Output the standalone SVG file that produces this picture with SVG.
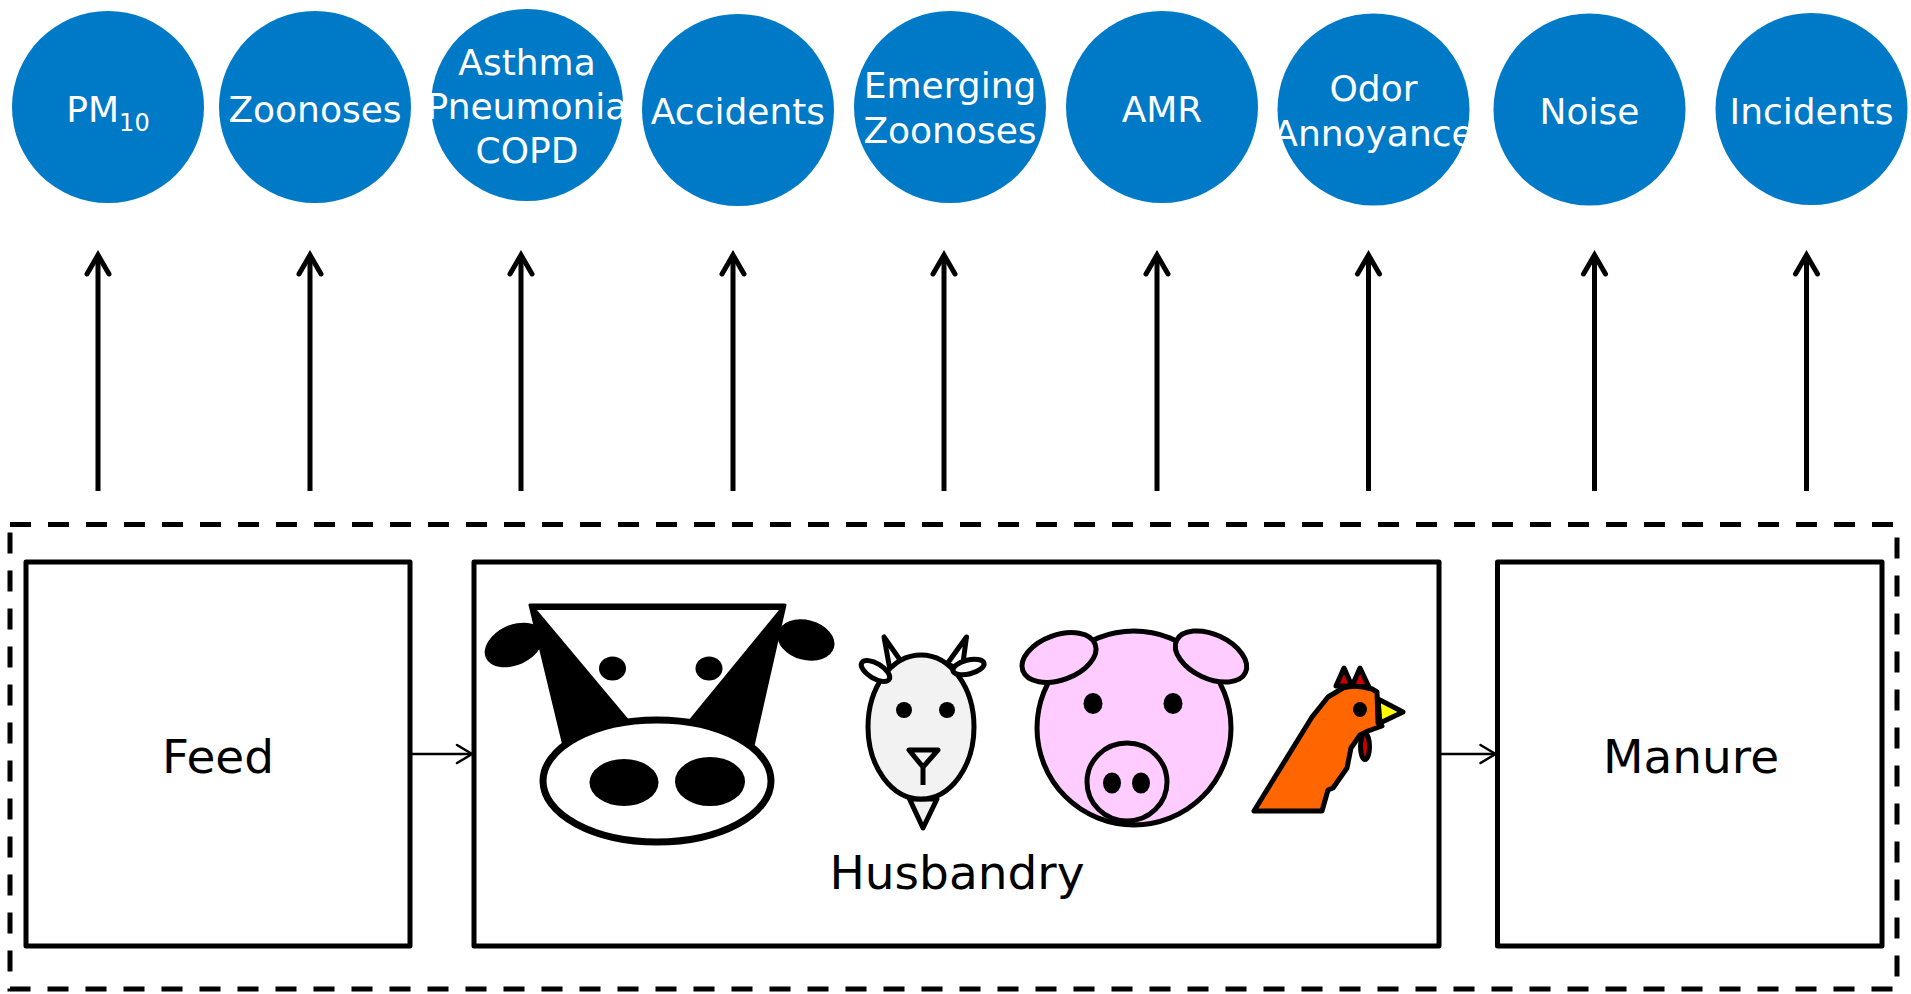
<svg xmlns="http://www.w3.org/2000/svg" width="1911" height="994" viewBox="0 0 1911 994">
<style>
.c{fill:#0079c7}
.ct{fill:#fff;font-family:"DejaVu Sans",Verdana,sans-serif;font-size:36px;text-anchor:middle}
.bx{fill:none;stroke:#000;stroke-width:5;stroke-linejoin:round}
.bt{fill:#000;font-family:"DejaVu Sans",Verdana,sans-serif;font-size:47px;text-anchor:middle}
.up{fill:none;stroke:#000;stroke-width:5;marker-end:url(#mUp)}
.sm{fill:none;stroke:#000;stroke-width:2.5;marker-end:url(#mSm)}
.ol{stroke:#000;stroke-width:5;stroke-linejoin:round}
</style>
<defs>
<marker id="mUp" markerUnits="userSpaceOnUse" orient="auto" refX="0" refY="0" markerWidth="1" markerHeight="1" style="overflow:visible">
<path d="M -19 -11 L 0 0 L -19 11" fill="none" stroke="#000" stroke-width="5" stroke-linecap="round" stroke-linejoin="miter"/>
</marker>
<marker id="mSm" markerUnits="userSpaceOnUse" orient="auto" refX="0" refY="0" markerWidth="1" markerHeight="1" style="overflow:visible">
<path d="M -15 -9 L 0 0 L -15 9" fill="none" stroke="#000" stroke-width="2.5" stroke-linecap="round"/>
</marker>
</defs>
<rect width="1911" height="994" fill="#fff"/>

<g id="n-pm10"><circle class="c" cx="108" cy="107" r="96"/><text class="ct" x="108" y="122">PM<tspan font-size="24" dy="9">10</tspan></text></g>
<g id="n-zoonoses"><circle class="c" cx="315" cy="107" r="96"/><text class="ct" x="315" y="122">Zoonoses</text></g>
<g id="n-asthma"><circle class="c" cx="527" cy="105" r="96"/><text class="ct" x="527" y="75">Asthma</text><text class="ct" x="527" y="119">Pneumonia</text><text class="ct" x="527" y="163">COPD</text></g>
<g id="n-accidents"><circle class="c" cx="738" cy="110" r="96"/><text class="ct" x="738" y="124">Accidents</text></g>
<g id="n-emerging"><circle class="c" cx="950" cy="107" r="96"/><text class="ct" x="950" y="98">Emerging</text><text class="ct" x="950" y="142.5">Zoonoses</text></g>
<g id="n-amr"><circle class="c" cx="1162" cy="107" r="96"/><text class="ct" x="1162" y="122">AMR</text></g>
<g id="n-odor"><circle class="c" cx="1373.5" cy="109.5" r="96"/><text class="ct" x="1373.5" y="100.5">Odor</text><text class="ct" x="1373.5" y="146">Annoyance</text></g>
<g id="n-noise"><circle class="c" cx="1589.5" cy="109.5" r="96"/><text class="ct" x="1589.5" y="124">Noise</text></g>
<g id="n-incidents"><circle class="c" cx="1811.5" cy="109" r="96"/><text class="ct" x="1811.5" y="124">Incidents</text></g>

<g id="n-system"><rect x="10" y="524.5" width="1887" height="464.5" fill="none" stroke="#000" stroke-width="5" stroke-dasharray="21 17"/></g>

<g id="n-feed"><rect class="bx" x="26" y="562" width="384" height="384"/><text class="bt" x="218" y="773">Feed</text></g>

<g id="n-husbandry">
<rect class="bx" x="474" y="562" width="965" height="384"/>
<g id="cow">
<ellipse cx="514" cy="645" rx="31" ry="20" transform="rotate(-25 514 645)" fill="#000"/>
<ellipse cx="806" cy="640" rx="29" ry="20" transform="rotate(15 806 640)" fill="#000"/>
<path d="M530 605 L785 605 L753 746 L564 746 Z" fill="#000" stroke="#000" stroke-width="3" stroke-linejoin="round"/>
<path d="M537 610 L779 610 L688 721 L630 721 Z" fill="#fff"/>
<ellipse cx="612.5" cy="668.5" rx="13.5" ry="12" fill="#000"/>
<ellipse cx="709" cy="668.5" rx="13.5" ry="12" fill="#000"/>
<ellipse cx="657" cy="781" rx="114" ry="61" fill="#fff" stroke="#000" stroke-width="7"/>
<ellipse cx="624" cy="782.5" rx="34.5" ry="23.5" fill="#000"/>
<ellipse cx="710" cy="781.5" rx="35" ry="24.5" fill="#000"/>
</g>
<g id="goat">
<path class="ol" d="M884 637 L890 670 L905 667 Z" fill="#fff"/>
<path class="ol" d="M966.5 637 L947 664 L962 670 Z" fill="#fff"/>
<path class="ol" d="M909.5 799 L937 799 L923 828 Z" fill="#f2f2f2"/>
<ellipse class="ol" cx="921" cy="727" rx="53" ry="72" fill="#f2f2f2"/>
<ellipse class="ol" cx="875.5" cy="671" rx="16" ry="7.5" transform="rotate(31 875.5 671)" fill="#fff"/>
<ellipse class="ol" cx="968.5" cy="667" rx="16" ry="7" transform="rotate(-14 968.5 667)" fill="#fff"/>
<circle cx="904" cy="710" r="8" fill="#000"/>
<circle cx="947" cy="710" r="8" fill="#000"/>
<path class="ol" d="M909 750 L938 750 L923 767 Z M923 767 L923 785" fill="none"/>
</g>
<g id="pig">
<circle class="ol" cx="1134" cy="728" r="97" fill="#ffccff"/>
<ellipse class="ol" cx="1059" cy="657.5" rx="38.5" ry="22.5" transform="rotate(-20 1059 657.5)" fill="#ffccff"/>
<ellipse class="ol" cx="1211" cy="656.5" rx="38" ry="22" transform="rotate(25 1211 656.5)" fill="#ffccff"/>
<ellipse cx="1093" cy="703.5" rx="9.5" ry="10.5" fill="#000"/>
<ellipse cx="1173" cy="703.5" rx="9.5" ry="10.5" fill="#000"/>
<ellipse class="ol" cx="1127" cy="782" rx="40" ry="39" fill="#ffccff"/>
<ellipse cx="1112" cy="783" rx="9" ry="10.5" fill="#000"/>
<ellipse cx="1141" cy="783" rx="9" ry="10.5" fill="#000"/>
</g>
<g id="chicken">
<path class="ol" d="M1336 686 L1344 668 L1352 686 Z M1352 686 L1360 668 L1369 687 Z" fill="#cc0000" stroke-width="4"/>
<path class="ol" d="M1254 811 L1322 811 L1328 790 L1333 788 L1347 768 L1351 748 L1360 735 L1368 731 L1382 726 L1378 723 L1377 692 L1372 689 Q1355 684 1343 688 L1328 697 L1312 717 Z" fill="#ff6600"/>
<path class="ol" d="M1378 699 L1403 712 L1380 723 Z" fill="#ffff00" stroke-width="4"/>
<ellipse cx="1360" cy="709.5" rx="7" ry="7.5" fill="#000"/>
<ellipse class="ol" cx="1365" cy="746.5" rx="4.5" ry="13" fill="#cc0000" stroke-width="3.5"/>
</g>
<text class="bt" x="957" y="889">Husbandry</text>
</g>

<g id="n-manure"><rect class="bx" x="1497.5" y="562" width="384.5" height="384"/><text class="bt" x="1691" y="773">Manure</text></g>

<g id="connectors">
<path class="up" d="M98 491 V255"/>
<path class="up" d="M310 491 V255"/>
<path class="up" d="M521 491 V255"/>
<path class="up" d="M733 491 V255"/>
<path class="up" d="M944 491 V255"/>
<path class="up" d="M1157 491 V255"/>
<path class="up" d="M1368.5 491 V255"/>
<path class="up" d="M1594.5 491 V255"/>
<path class="up" d="M1806.5 491 V255"/>
<path class="sm" d="M410 754 H472"/>
<path class="sm" d="M1439 754 H1495.5"/>
</g>
</svg>
